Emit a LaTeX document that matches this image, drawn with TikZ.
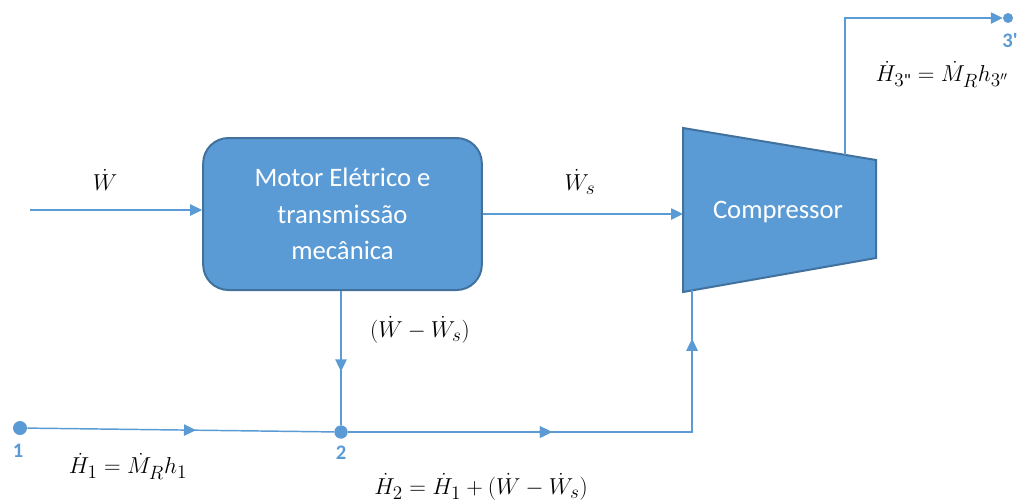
\documentclass[tikz,border=0pt]{standalone}
\usepackage{amsmath}
\usepackage{fontspec}
\setmainfont{Carlito}
\usetikzlibrary{arrows.meta,calc,decorations.markings}
\definecolor{Flow}{HTML}{5B9BD5}
\definecolor{Fill}{HTML}{5B9BD5}
\definecolor{Rim}{HTML}{41719C}

\begin{document}
\begin{tikzpicture}[x=0.75pt,y=-0.75pt,>={Triangle[length=9pt,width=8.5pt]},
    flow/.style={Flow,line width=1.1pt},
    midarrow/.style={postaction={decorate},decoration={markings,mark=at position #1 with {\arrow{Triangle[length=9pt,width=8.5pt]}}}},
    blockbox/.style={draw=Rim,fill=Fill,line width=1.5pt,rounded corners=19pt,text=white,align=center},
    pt/.style={circle,fill=Flow,inner sep=0pt,minimum size=#1},
    ptlabel/.style={Flow,font=\fontsize{15.5}{18}\selectfont\bfseries},
    eq/.style={font=\fontsize{19}{22}\selectfont}]
  \useasboundingbox (0,0) rectangle (1019,501);
  % blocks
  \node[blockbox,minimum width=209pt,minimum height=114pt,font=\fontsize{20}{27.5}\selectfont] (motor) at (342.5,214) {Motor Elétrico e\\transmissão\\mecânica};
  \coordinate (cTL) at (683,128);\coordinate (cTR) at (876,160);
  \coordinate (cBR) at (876,258);\coordinate (cBL) at (683,292);
  \draw[draw=Rim,fill=Fill,line width=1.5pt] (cTL)--(cTR)--(cBR)--(cBL)--cycle;
  \node[text=white,font=\fontsize{20}{24}\selectfont] (comp) at (778,212) {Compressor};
  % state points
  \node[pt=10.5pt] (p1) at (20,428) {};
  \node[pt=10pt] (p2) at (341,432) {};
  \node[pt=7.5pt] (p3) at (1008,18) {};
  \node[ptlabel] (l1) at (18,451) {1};
  \node[ptlabel] (l2) at (341,453) {2};
  \node[ptlabel] (l3) at (1010,41) {3\textquotesingle};
  \coordinate (win) at (30,210);
  \coordinate (out) at ($(cTL)!0.84!(cTR)$);
  \coordinate (cin) at ($(cBL)!0.047!(cBR)$);
  % connectors
  \draw[flow,->] (win)--(win-|motor.west);
  \draw[flow,->] (motor.east)--(motor.east-|cTL);
  \draw[flow,->] (out)|-(p3);
  \draw[flow,midarrow=0.6] (motor.south-|p2)--(p2);
  \draw[flow,midarrow=0.55] (p1)--(p2);
  \draw[flow,midarrow=0.42,midarrow=0.9] (p2)-|(cin);
  % labels
  \node[eq] (tw) at (105,180) {$\dot W$};
  \node[eq] (tws) at (580,182) {$\dot W_s$};
  \node[eq] (tloss) at (420,330) {$(\dot W-\dot W_s)$};
  \node[eq] (th1) at (128,466) {$\dot H_1=\dot M_R h_1$};
  \node[eq] (th2) at (481,487) {$\dot H_2=\dot H_1+(\dot W-\dot W_s)$};
  \node[eq] (th3) at (942,74) {$\dot H_{3\text{\textquotedbl}}=\dot M_R h_{3''}$};
\end{tikzpicture}
\end{document}
